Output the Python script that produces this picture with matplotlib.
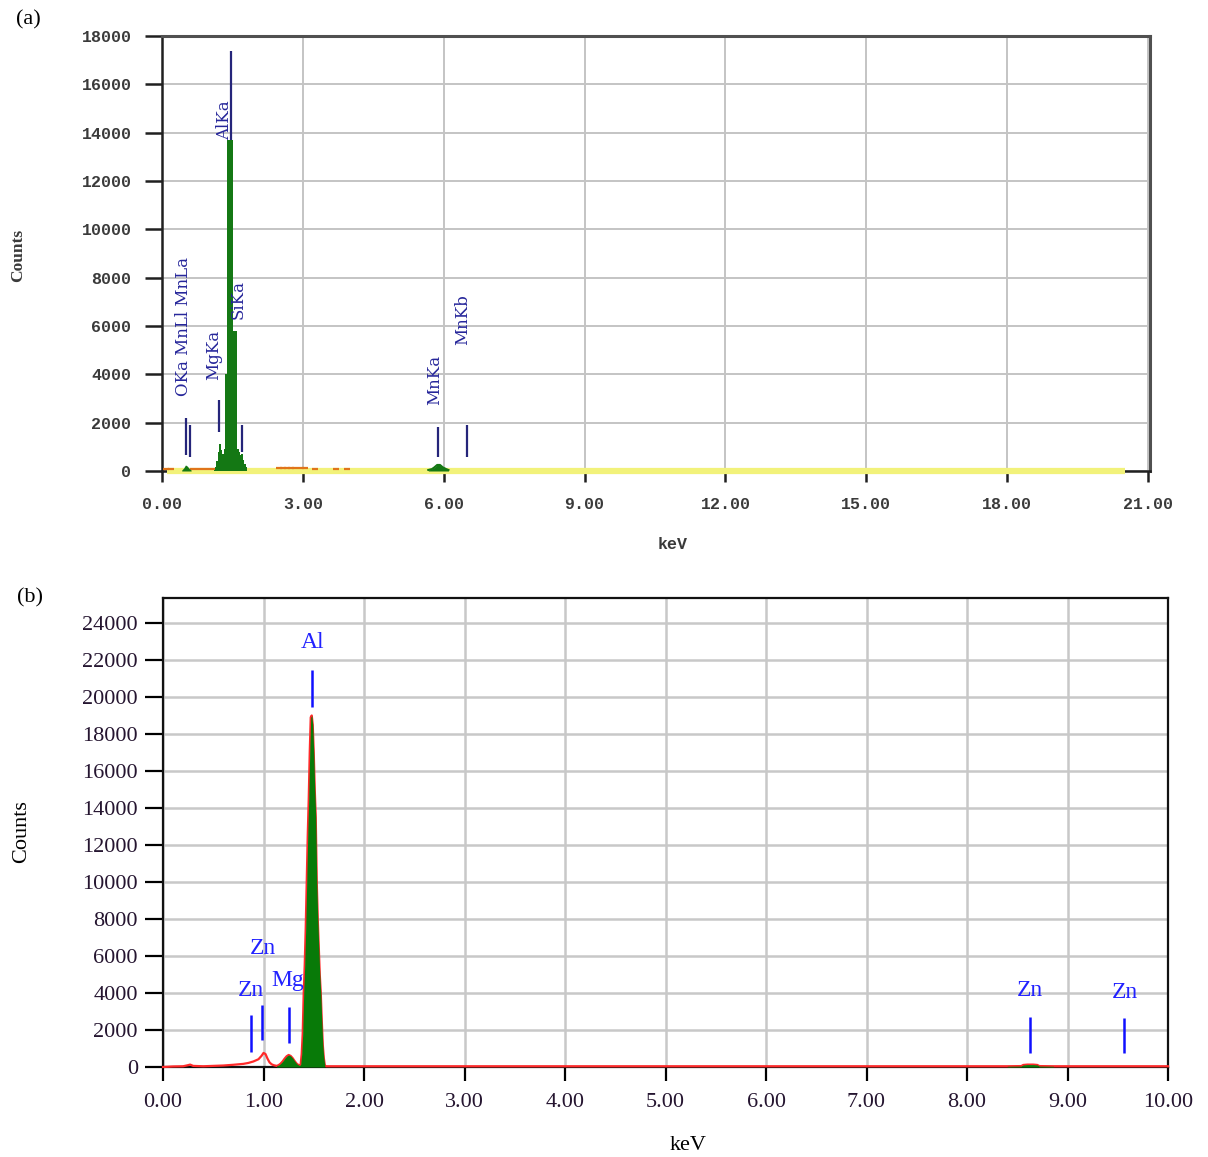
import matplotlib
matplotlib.use("Agg")
import matplotlib.pyplot as plt
import numpy as np

# ---------------- Panel (a) data ----------------
a_xticks = [0, 3, 6, 9, 12, 15, 18, 21]
a_yticks = [0, 2000, 4000, 6000, 8000, 10000, 12000, 14000, 16000, 18000]

a_green_keV = [1.10, 1.13, 1.16, 1.19, 1.22, 1.25, 1.28, 1.31, 1.34, 1.37, 1.39, 1.42, 1.45,
               1.48, 1.51, 1.54, 1.57, 1.60, 1.63, 1.66, 1.69, 1.72, 1.75, 1.78, 1.81]
a_green_counts = [50, 150, 400, 800, 1100, 850, 700, 900, 4000, 4000, 13700, 13700, 13700,
                  13700, 5800, 5800, 5800, 900, 800, 650, 700, 450, 300, 150, 50]
a_green_O_keV = [0.42, 0.46, 0.50, 0.54, 0.58, 0.62]
a_green_O_counts = [40, 120, 250, 200, 100, 40]
a_green_Mn_keV = [5.67, 5.75, 5.80, 5.86, 5.92, 5.98, 6.05, 6.10]
a_green_Mn_counts = [40, 80, 150, 250, 250, 150, 80, 40]

a_orange_keV = [0.62, 0.80, 0.95, 1.10]
a_orange_counts = [90, 90, 90, 90]
a_orange_dot_keV = [0.08, 0.20, 2.50, 2.58, 2.66, 2.74, 2.84, 2.95, 3.05, 3.25, 3.70, 3.95]
a_orange_dot_counts = [90, 90, 110, 110, 110, 110, 110, 110, 110, 90, 90, 90]

a_yellow_keV = [0.10, 20.50]
a_yellow_counts = [0, 0]

a_mark_keV = [0.505, 0.60, 1.215, 1.47, 1.70, 5.87, 6.50]
a_mark_lo = [660, 580, 1610, 13700, 790, 580, 580]
a_mark_hi = [2190, 1900, 2940, 17400, 1900, 1820, 1900]

a_labels = ["OKa MnLl MnLa", "MgKa", "AlKa", "SiKa", "MnKa", "MnKb"]
a_label_keV = [0.46, 1.09, 1.34, 1.63, 5.80, 6.41]
a_label_counts = [6000, 4800, 14530, 7100, 3770, 6250]

# ---------------- Panel (b) data ----------------
b_xticks = [0, 1, 2, 3, 4, 5, 6, 7, 8, 9, 10]
b_yticks = [0, 2000, 4000, 6000, 8000, 10000, 12000, 14000, 16000, 18000, 20000, 22000, 24000]

b_red_keV = [0.00, 0.10, 0.20, 0.25, 0.27, 0.30, 0.40, 0.50, 0.60, 0.70, 0.80, 0.85, 0.90,
             0.95, 0.98, 1.00, 1.02, 1.04, 1.06, 1.08, 1.10, 1.13]
b_red_counts = [0, 30, 40, 100, 130, 60, 40, 60, 80, 120, 170, 220, 300,
                420, 600, 760, 700, 450, 250, 150, 100, 60]

b_green_keV = [1.13, 1.15, 1.17, 1.19, 1.21, 1.23, 1.25, 1.27, 1.29, 1.31, 1.33, 1.35, 1.36,
               1.37, 1.38, 1.39, 1.40, 1.41, 1.42, 1.43, 1.44, 1.45, 1.46, 1.47, 1.48, 1.49,
               1.50, 1.51, 1.52, 1.53, 1.54, 1.55, 1.56, 1.57, 1.58, 1.59, 1.60, 1.61]
b_green_counts = [60, 100, 180, 300, 450, 580, 650, 600, 480, 320, 180, 100, 80,
                  150, 700, 1800, 4000, 5500, 7500, 10000, 12500, 14500, 17000, 18900, 19000, 18500,
                  17000, 15000, 13500, 10000, 8000, 6500, 5000, 4000, 2500, 1200, 500, 100]

b_tail_keV = [1.62, 2.00, 3.00, 4.00, 5.00, 6.00, 7.00, 8.00, 8.40, 8.54, 8.56, 8.60, 8.66,
              8.70, 8.72, 8.86, 9.00, 10.00]
b_tail_counts = [40, 40, 40, 40, 40, 40, 40, 40, 40, 50, 110, 130, 130,
                 110, 50, 40, 40, 40]
b_green2_keV = [8.40, 8.54, 8.56, 8.60, 8.66, 8.70, 8.72, 8.86]
b_green2_counts = [40, 50, 110, 130, 130, 110, 50, 40]

b_mark_keV = [0.88, 0.99, 1.25, 1.48, 8.63, 9.56]
b_mark_lo = [810, 1460, 1300, 19460, 760, 760]
b_mark_hi = [2810, 3350, 3240, 21460, 2700, 2650]

b_labels = ["Al", "Zn", "Zn", "Mg", "Zn", "Zn"]
b_label_keV = [1.49, 0.995, 0.876, 1.245, 8.63, 9.57]
b_label_counts = [22920, 6430, 4160, 4700, 4160, 4050]

# ---------------- Figure ----------------
W, H = 1208, 1157
fig = plt.figure(figsize=(W / 100, H / 100), dpi=100)

serif = ["Liberation Serif", "DejaVu Serif"]
mono = ["Liberation Mono", "DejaVu Sans Mono"]

# ---- Panel (a)
axa = fig.add_axes([162 / W, 1 - 471 / H, 988 / W, 435 / H])
axa.set_xlim(0, 21.04)
axa.set_ylim(0, 18000)
axa.set_xticks(a_xticks)
axa.set_yticks(a_yticks)
axa.set_xticklabels([f"{v:.2f}" for v in a_xticks])
axa.set_yticklabels([f"{v}" for v in a_yticks])
axa.grid(True, color="#c4c4c4", lw=1.4, zorder=0)
axa.set_axisbelow(True)
for s in ["top", "right"]:
    axa.spines[s].set_color("#505050")
    axa.spines[s].set_linewidth(2.2)
for s in ["left", "bottom"]:
    axa.spines[s].set_color("#202020")
    axa.spines[s].set_linewidth(1.8)
axa.tick_params(axis="y", direction="out", length=12, width=1.8, pad=10,
                labelsize=12, labelcolor="#3a3a3a", color="#202020")
axa.tick_params(axis="x", direction="out", length=8, width=1.8, pad=11,
                labelsize=12, labelcolor="#3a3a3a", color="#202020")
for lab in axa.get_xticklabels() + axa.get_yticklabels():
    lab.set_fontfamily(mono)
    lab.set_fontweight("bold")

axa.plot(a_yellow_keV, a_yellow_counts, color="#f2f27a", lw=4.5, zorder=3, clip_on=False,
         solid_capstyle="butt")
axa.plot(a_orange_keV, a_orange_counts, color="#e0741a", lw=1.6, zorder=4)
axa.plot(a_orange_dot_keV, a_orange_dot_counts, ls="none", marker="_", ms=4, mew=1.6,
         color="#e0741a", zorder=4)
axa.fill_between(a_green_keV, 0, a_green_counts, step="post", color="#147814", lw=0, zorder=5)
axa.fill_between(a_green_O_keV, 0, a_green_O_counts, color="#147814", lw=0, zorder=5)
axa.fill_between(a_green_Mn_keV, 0, a_green_Mn_counts, color="#147814", lw=0, zorder=5)
axa.plot(a_green_Mn_keV, a_green_Mn_counts, color="#147814", lw=1.5, zorder=5)
axa.vlines(a_mark_keV, a_mark_lo, a_mark_hi, color="#25257a", lw=1.6, zorder=6)
for t, xk, yc in zip(a_labels, a_label_keV, a_label_counts):
    axa.text(xk, yc, t, rotation=90, ha="center", va="center", fontsize=12,
             family=["DejaVu Serif"], color="#26269a", zorder=7)

fig.text(18 / W, 1 - 255 / H, "Counts", rotation=90, ha="center", va="center",
         fontsize=12.5, family=serif, fontweight="bold", color="#3a3a3a")
fig.text(673 / W, 1 - 545 / H, "keV", ha="center", va="center",
         fontsize=12, family=mono, fontweight="bold", color="#3a3a3a")
fig.text(28 / W, 1 - 20 / H, "(a)", ha="center", va="center", fontsize=16, family=serif)

# ---- Panel (b)
axb = fig.add_axes([163 / W, 1 - 1067 / H, 1005 / W, 469 / H])
axb.set_xlim(0, 10)
axb.set_ylim(0, 25350)
axb.set_xticks(b_xticks)
axb.set_yticks(b_yticks)
axb.set_xticklabels([f"{v:.2f}" for v in b_xticks])
axb.set_yticklabels([f"{v}" for v in b_yticks])
axb.grid(True, color="#c8c8c8", lw=1.8, zorder=0)
axb.set_axisbelow(True)
for s in axb.spines.values():
    s.set_color("#111111")
    s.set_linewidth(1.6)
axb.tick_params(axis="y", direction="out", length=13, width=1.6, pad=5,
                labelsize=16, labelcolor="#251530")
axb.tick_params(axis="x", direction="out", length=10, width=1.6, pad=9,
                labelsize=16, labelcolor="#251530")
for lab in axb.get_xticklabels() + axb.get_yticklabels():
    lab.set_fontfamily(serif)

red_x = b_red_keV + b_green_keV + b_tail_keV
red_y = b_red_counts + b_green_counts + b_tail_counts
axb.plot(red_x, red_y, color="#ff2a2a", lw=1.6, zorder=4, clip_on=False)
axb.fill_between(b_green_keV, 0, b_green_counts, color="#087a08", lw=0, zorder=5)
axb.fill_between(b_green2_keV, 0, b_green2_counts, color="#087a08", lw=0, zorder=5)
axb.vlines(b_mark_keV, b_mark_lo, b_mark_hi, color="#1010ff", lw=1.8, zorder=6)
for t, xk, yc in zip(b_labels, b_label_keV, b_label_counts):
    axb.text(xk, yc, t, ha="center", va="center", fontsize=17, family=serif,
             color="#2222ff", zorder=7)

fig.text(22 / W, 1 - 832 / H, "Counts", rotation=90, ha="center", va="center",
         fontsize=16, family=serif)
fig.text(688 / W, 1 - 1145 / H, "keV", ha="center", va="center", fontsize=16, family=serif)
fig.text(30 / W, 1 - 598 / H, "(b)", ha="center", va="center", fontsize=16, family=serif)

fig.savefig("out.png", dpi=100)
